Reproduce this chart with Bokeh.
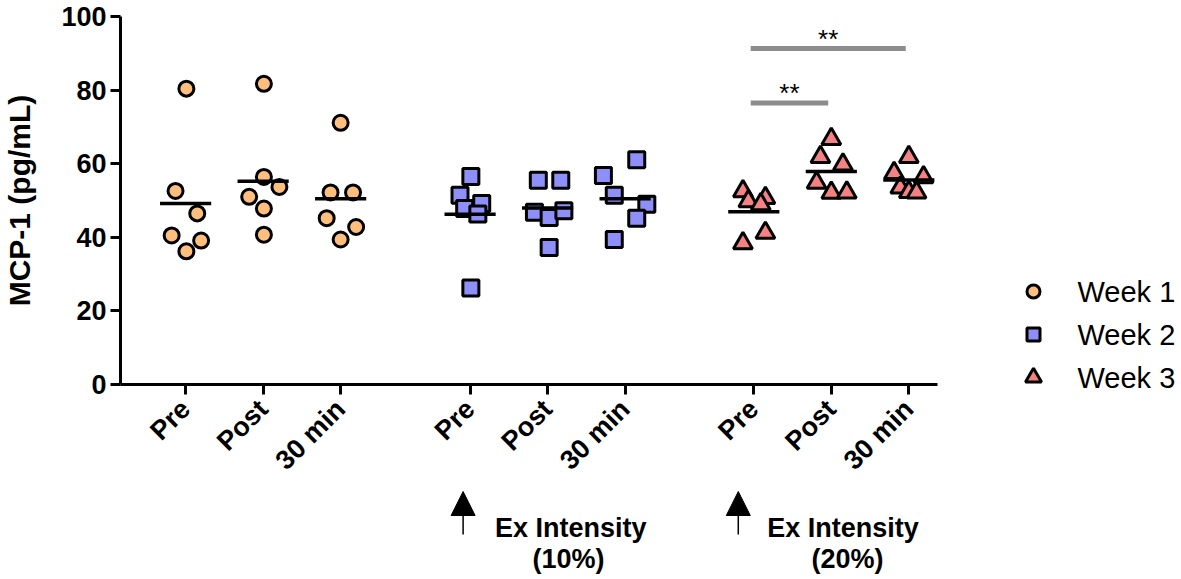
import math
import numpy as np
from bokeh.plotting import figure
from bokeh.layouts import row, column
from bokeh.models import Range1d, FixedTicker, Label, Arrow, NormalHead
from bokeh.embed import file_html
from bokeh.resources import INLINE
from bokeh.core.properties import value

# ---------------- data ----------------
timepoints = ["Pre", "Post", "30 min"]
weeks = ["Week 1", "Week 2", "Week 3"]
group_start = [0.0, 3.67, 7.33]          # category position of each week's "Pre"

week1_pre = [80.4, 52.6, 46.5, 40.5, 39.1, 36.2]
week1_post = [81.7, 56.4, 53.7, 51.0, 47.8, 40.7]
week1_30 = [71.1, 52.2, 52.2, 45.2, 42.8, 39.4]

week2_pre = [56.5, 51.4, 49.2, 47.8, 46.3, 26.2]
week2_post = [55.5, 55.5, 46.8, 45.4, 47.2, 37.2]
week2_30 = [61.1, 56.8, 51.4, 49.0, 45.2, 39.4]

week3_pre = [52.5, 50.7, 49.8, 49.0, 41.2, 38.4]
week3_post = [66.7, 61.8, 59.8, 54.8, 52.1, 52.2]
week3_30 = [61.8, 57.5, 56.3, 53.5, 52.3, 52.2]

# horizontal scatter (beeswarm) offsets, in category units
week1_jitter = [[0.01, -0.13, 0.15, -0.18, 0.20, 0.01],
                [0.01, 0.01, 0.21, -0.18, 0.01, 0.01],
                [0.0, -0.13, 0.16, -0.18, 0.20, 0.0]]
week2_jitter = [[0.01, -0.13, 0.15, -0.07, 0.10, 0.01],
                [-0.12, 0.17, -0.17, 0.02, 0.21, 0.02],
                [0.15, -0.28, -0.14, 0.28, 0.15, -0.14]]
week3_jitter = [[-0.14, 0.15, -0.07, 0.09, 0.15, -0.14],
                [0.0, -0.14, 0.15, -0.19, 0.0, 0.20],
                [0.0, -0.19, 0.19, -0.11, 0.0, 0.10]]

week_values = [[week1_pre, week1_post, week1_30],
               [week2_pre, week2_post, week2_30],
               [week3_pre, week3_post, week3_30]]
week_jitter = [week1_jitter, week2_jitter, week3_jitter]

# significance (week 3): pairs of timepoint indices, bar level, label
sig_pairs = [(0, 1), (0, 2)]
sig_levels = [76.5, 91.3]
sig_labels = ["**", "**"]

intensity_titles = ["Ex Intensity", "Ex Intensity"]
intensity_pcts = ["(10%)", "(20%)"]
intensity_weeks = [1, 2]

# ---------------- styles / layout ----------------
markers = ["circle", "square", "triangle"]
fills = ["#FDBE7E", "#8F8FFA", "#F58282"]
sizes = [15, 16, 19]
legend_sizes = [13, 13, 16]
FONT = "Liberation Sans"

MAIN_W, MAIN_H = 940, 490
BOT_H = 84
LEG_W = 238
FRAME_LEFT, FRAME_RIGHT_PAD, FRAME_TOP, FRAME_BOTTOM_PAD = 120, 3, 16, 106

x_range = Range1d(-0.84, 9.70)

p = figure(width=MAIN_W, height=MAIN_H, output_backend="svg", toolbar_location=None,
           x_range=x_range, y_range=Range1d(0, 100),
           min_border_left=FRAME_LEFT, min_border_right=FRAME_RIGHT_PAD,
           min_border_top=FRAME_TOP, min_border_bottom=FRAME_BOTTOM_PAD)
p.outline_line_color = None
p.xgrid.visible = False
p.ygrid.visible = False

tick_pos = []
tick_lab = {}
for w in range(3):
    for t in range(3):
        xc = round(group_start[w] + t, 2)
        tick_pos.append(xc)
        tick_lab[xc] = timepoints[t]
    xs, ys = [], []
    for t in range(3):
        xc = group_start[w] + t
        for v, j in zip(week_values[w][t], week_jitter[w][t]):
            xs.append(xc + j)
            ys.append(v)
    p.scatter(xs, ys, marker=markers[w], size=sizes[w], fill_color=fills[w],
              line_color="black", line_width=3)
    x0, x1, ym = [], [], []
    for t in range(3):
        xc = group_start[w] + t
        m = float(np.mean(week_values[w][t]))
        x0.append(xc - 0.33)
        x1.append(xc + 0.33)
        ym.append(m)
    p.segment(x0=x0, y0=ym, x1=x1, y1=ym, line_color="black", line_width=3.5)

# significance bars (week 3)
g3 = group_start[2]
for (a, b), lvl, lab in zip(sig_pairs, sig_levels, sig_labels):
    xa, xb = g3 + a - 0.04, g3 + b - 0.04
    p.segment(x0=[xa], y0=[lvl], x1=[xb], y1=[lvl], line_color="#8C8C8C", line_width=5)
    p.text(x=[(xa + xb) / 2], y=[lvl + 2.6], text=[lab], text_align="center",
           text_baseline="alphabetic", text_font=value(FONT), text_font_size="26px",
           text_color="black")

# axes
for ax in (p.xaxis[0], p.yaxis[0]):
    ax.axis_line_width = 3
    ax.axis_line_color = "black"
    ax.major_tick_line_width = 3
    ax.major_tick_line_color = "black"
    ax.major_tick_out = 10
    ax.major_tick_in = 0
    ax.minor_tick_out = 0
    ax.minor_tick_in = 0
    ax.major_label_text_font = FONT
    ax.major_label_text_font_style = "bold"
    ax.major_label_text_color = "black"

p.yaxis.ticker = FixedTicker(ticks=[0, 20, 40, 60, 80, 100])
p.yaxis.major_label_text_font_size = "27px"
p.yaxis.major_label_standoff = 4
p.yaxis.axis_label = "MCP-1 (pg/mL)"
p.yaxis.axis_label_text_font = FONT
p.yaxis.axis_label_text_font_style = "bold"
p.yaxis.axis_label_text_font_size = "30px"
p.yaxis.axis_label_text_color = "black"
p.yaxis.axis_label_standoff = 22

p.xaxis.ticker = FixedTicker(ticks=tick_pos)
p.xaxis.major_label_overrides = tick_lab
p.xaxis.major_label_text_font_size = "27px"
p.xaxis.major_label_orientation = math.pi / 4
p.xaxis.major_label_standoff = 10

# ---------------- bottom strip: exercise-intensity annotations ----------------
# y in pixels measured downward from the top of this strip
pb = figure(width=MAIN_W, height=BOT_H, output_backend="svg", toolbar_location=None,
            x_range=x_range, y_range=Range1d(BOT_H, 0),
            x_axis_type=None, y_axis_type=None,
            min_border_left=FRAME_LEFT, min_border_right=FRAME_RIGHT_PAD,
            min_border_top=0, min_border_bottom=0)
pb.outline_line_color = None
pb.xgrid.visible = False
pb.ygrid.visible = False

arrow_shift = [0.09, 0.20]
title_shift = [1.30, 1.15]
pct_shift = [1.27, 1.21]
for k, w in enumerate(intensity_weeks):
    xpre = group_start[w]
    ax_x = xpre - arrow_shift[k]
    pb.add_layout(Arrow(end=NormalHead(size=24, fill_color="black", line_color="black"),
                        x_start=ax_x, y_start=44, x_end=ax_x, y_end=1,
                        line_width=1.5, line_color="black"))
    pb.add_layout(Label(x=xpre + title_shift[k], y=37, text=intensity_titles[k],
                        text_align="center", text_baseline="middle",
                        text_font=FONT, text_font_style="bold", text_font_size="27px",
                        text_color="black"))
    pb.add_layout(Label(x=xpre + pct_shift[k], y=68, text=intensity_pcts[k],
                        text_align="center", text_baseline="middle",
                        text_font=FONT, text_font_style="bold", text_font_size="27px",
                        text_color="black"))

# ---------------- legend strip ----------------
LEG_H = MAIN_H + BOT_H
pl = figure(width=LEG_W, height=LEG_H, output_backend="svg", toolbar_location=None,
            x_range=Range1d(0, LEG_W), y_range=Range1d(LEG_H, 0),
            x_axis_type=None, y_axis_type=None,
            min_border_left=0, min_border_right=0, min_border_top=0, min_border_bottom=0)
pl.outline_line_color = None
pl.xgrid.visible = False
pl.ygrid.visible = False
legend_y = [291, 334, 377]
for k in range(3):
    pl.scatter([93], [legend_y[k]], marker=markers[k], size=legend_sizes[k],
               fill_color=fills[k], line_color="black", line_width=3)
    pl.text(x=[137], y=[legend_y[k]], text=[weeks[k]], text_align="left",
            text_baseline="middle", text_font=value(FONT), text_font_size="29px",
            text_color="black")

layout = row(column(p, pb, spacing=0), pl, spacing=0)
open("out.html", "w").write(file_html(layout, INLINE))
